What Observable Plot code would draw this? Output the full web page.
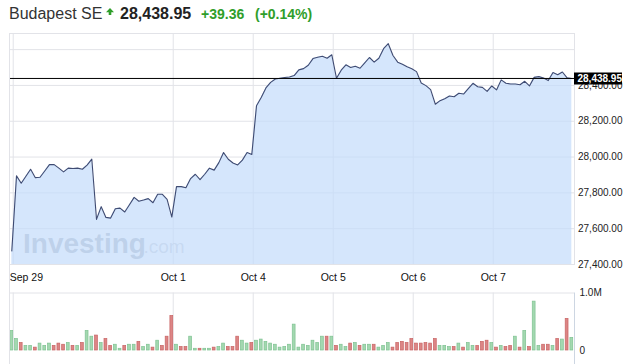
<!DOCTYPE html>
<html><head><meta charset="utf-8">
<script src="https://cdn.jsdelivr.net/npm/d3@7"></script>
<script src="https://cdn.jsdelivr.net/npm/@observablehq/plot@0.6"></script>
<style>
body{margin:0;background:#fff;font-family:"Liberation Sans",Arial,Helvetica,sans-serif;}
#wrap{position:relative;width:632px;height:364px;overflow:hidden;background:#fff;}
#hdr span{position:absolute;white-space:nowrap;line-height:1;}
#price{position:absolute;left:0;top:30px;}
#vol{position:absolute;left:0;top:292px;}
#lborder{position:absolute;left:9px;top:33px;height:331px;border-left:1px solid #e2e3e8;}
</style></head>
<body>
<div id="wrap">
  <div id="hdr">
    <span style="left:9px;top:5.5px;font-size:16px;color:#333;">Budapest SE</span>
    <svg style="position:absolute;left:106px;top:8px" width="8" height="8" viewBox="0 0 8 8"><path d="M4 0 L8 4.2 L5.3 4.2 L5.3 7 L2.7 7 L2.7 4.2 L0 4.2 Z" fill="#2f9e2a"/></svg>
    <span style="left:120px;top:5.5px;font-size:16px;font-weight:bold;color:#222;">28,438.95</span>
    <span style="left:201px;top:7.2px;font-size:14px;font-weight:bold;color:#2f9e2a;">+39.36</span>
    <span style="left:255px;top:7.2px;font-size:14px;font-weight:bold;color:#2f9e2a;">(+0.14%)</span>
  </div>
  <div id="price"></div>
  <div id="vol"></div>
  <div id="lborder"></div>
</div>
<script>
// ---- data ----
const dayLabels = ["Sep 29","Oct 1","Oct 4","Oct 5","Oct 6","Oct 7"];
const labelDay = [0, 2, 3, 4, 5, 6];      // trading-day number of each label
const slotsPerDay = 17;                    // half-hour slots per session
const price = [
  27475,27895,27854,27893,27932,27885,27887,27922,27958,27958,
  27938,27917,27938,27936,27938,27932,27955,27988,27652,27723,
  27663,27659,27711,27715,27693,27734,27775,27753,27760,27768,
  27745,27792,27792,27764,27665,27835,27835,27829,27880,27904,
  27874,27904,27938,27927,27969,28025,27988,27967,27956,27983,
  28025,28014,28287,28333,28386,28417,28436,28440,28444,28447,
  28455,28487,28494,28513,28550,28557,28563,28552,28571,28440,
  28485,28515,28500,28507,28496,28526,28556,28530,28552,28605,
  28633,28567,28530,28518,28504,28493,28477,28414,28399,28377,
  28295,28315,28326,28341,28337,28356,28352,28382,28412,28393,
  28389,28367,28397,28375,28431,28412,28408,28408,28404,28423,
  28397,28445,28449,28442,28427,28472,28460,28475,28442,28438.95
];
const volumeM = [
  0.34,0.20,0.13,0.08,0.08,0.05,0.12,0.08,0.12,0.08,
  0.12,0.10,0.13,0.08,0.08,0.13,0.34,0.24,0.26,0.13,
  0.20,0.08,0.10,0.03,0.08,0.10,0.10,0.15,0.06,0.10,
  0.05,0.17,0.08,0.24,0.60,0.10,0.06,0.06,0.24,0.03,
  0.03,0.03,0.03,0.05,0.06,0.12,0.06,0.06,0.24,0.17,
  0.12,0.13,0.17,0.19,0.15,0.12,0.10,0.05,0.06,0.10,
  0.45,0.05,0.10,0.08,0.17,0.13,0.24,0.24,0.24,0.08,
  0.10,0.06,0.12,0.13,0.08,0.10,0.10,0.10,0.05,0.08,
  0.13,0.05,0.13,0.15,0.13,0.20,0.12,0.12,0.13,0.12,
  0.20,0.08,0.08,0.06,0.06,0.12,0.05,0.13,0.08,0.08,
  0.15,0.17,0.13,0.05,0.08,0.06,0.08,0.24,0.05,0.34,
  0.06,0.85,0.08,0.10,0.10,0.08,0.20,0.19,0.55,0.22
];
const barDir = "GGRGGRGGGR" + "RRGRGRGGRG" + "RRGGRGGRGG" + "RGRRRGRRGG" +
               "RGGRGGRRRG" + "GRGGGGGGGG" + "GGGGGGGRGR" + "GGRGRGGRGG" +
               "GRRRRRRRRR" + "RGGGRGRGGR" + "RRGRGRRGRG" + "RGGRRGRGRG";
const priceGrid = [27400, 27600, 27800, 28000, 28200, 28400, 28600];
const priceLabels = [27400, 27600, 27800, 28000, 28200, 28400];
const volTicks = [0, 1];
const volTickLabels = ["0", "1.0M"];

// ---- derived tables ----
const lastPrice = price[price.length - 1];
const pts = price.map((p, i) => ({i, p}));
const bars = volumeM.map((v, i) => ({i, v, up: barDir[i] === "G"}));
const tickShift = 0.3;
const tickX = labelDay.map(d => d * slotsPerDay + tickShift);
const ticksData = dayLabels.map((l, k) => ({l, x: tickX[k]}));
const xDom = [-0.49, 119.57];
const W = 632, ML = 9, MR = 58;
const pxPerUnit = (W - ML - MR) / (xDom[1] - xDom[0]);
const grid = "#e2e3e8";
const font = '"Liberation Sans", Arial, Helvetica, sans-serif';
const fmt2 = d3.format(",.2f");

const pricePlot = Plot.plot({
  width: W, height: 262, marginLeft: ML, marginRight: MR, marginTop: 3, marginBottom: 28,
  style: {fontFamily: font, background: "transparent", overflow: "visible"},
  x: {domain: xDom, axis: null},
  y: {domain: [27400, 28690], axis: null},
  marks: [
    Plot.gridX(tickX, {stroke: grid, strokeOpacity: 1}),
    Plot.gridY(priceGrid, {stroke: grid, strokeOpacity: 1}),
    Plot.frame({stroke: grid}),
    Plot.text(["Investing"], {frameAnchor: "bottom-left", dx: 13.5, dy: -12, lineAnchor: "bottom", textAnchor: "start",
      fontSize: 28, fontWeight: "bold", fill: "#8a95a3", fillOpacity: 0.68, letterSpacing: -0.4}),
    Plot.text([".com"], {frameAnchor: "bottom-left", dx: 134, dy: -12, lineAnchor: "bottom", textAnchor: "start",
      fontSize: 19, fill: "#8a95a3", fillOpacity: 0.42}),
    Plot.areaY(pts, {x: "i", y1: priceGrid[0], y2: "p", fill: "#c3dcfb", fillOpacity: 0.7}),
    Plot.lineY(pts, {x: "i", y: "p", stroke: "#3f4b72", strokeWidth: 1.1}),
    Plot.ruleY([lastPrice], {stroke: "#000", strokeWidth: 1}),
    Plot.axisY(priceLabels, {anchor: "right", label: null, tickSize: 0, tickPadding: 3.5, tickFormat: fmt2,
      fontSize: 10, fill: "#222", textAnchor: "start"}),
    Plot.ruleY([lastPrice], {x1: xDom[1], x2: xDom[1] + 48 / pxPerUnit, stroke: "#000", strokeWidth: 12}),
    Plot.text([lastPrice], {x: xDom[1], y: d => d, text: d => fmt2(d), dx: 3, textAnchor: "start",
      fill: "#fff", fontWeight: "bold", fontSize: 10}),
    Plot.text(ticksData.slice(0, 1), {x: "x", text: "l", frameAnchor: "bottom", dy: 16, dx: -3.5,
      textAnchor: "start", fontSize: 10.5, fill: "#111"}),
    Plot.text(ticksData.slice(1), {x: "x", text: "l", frameAnchor: "bottom", dy: 16,
      fontSize: 10.5, fill: "#111"})
  ]
});
document.getElementById("price").appendChild(pricePlot);

const volPlot = Plot.plot({
  width: W, height: 72, marginLeft: ML, marginRight: MR, marginTop: 0.5, marginBottom: 0,
  style: {fontFamily: font, background: "transparent", overflow: "visible"},
  x: {domain: xDom, axis: null},
  y: {domain: [-0.2435, 1], axis: null},
  color: {type: "identity"},
  marks: [
    Plot.ruleX(tickX, {y1: volTicks[0], y2: volTicks[1], stroke: grid}),
    Plot.ruleY([volTicks[1]], {stroke: grid}),
    Plot.ruleX([xDom[1]], {stroke: "#cdd6e2"}),
    Plot.rectY(bars, {x1: d => d.i - 0.3, x2: d => d.i + 0.3, y1: 0, y2: "v",
      fill: d => d.up ? "#a3d8b0" : "#dc8585",
      stroke: d => d.up ? "#7fc292" : "#c86464", strokeWidth: 0.7}),
    Plot.axisY(volTicks, {anchor: "right", label: null, tickSize: 0, tickPadding: 5,
      tickFormat: (d, k) => volTickLabels[k], fontSize: 10, fill: "#222", textAnchor: "start"})
  ]
});
document.getElementById("vol").appendChild(volPlot);
</script>
</body></html>
